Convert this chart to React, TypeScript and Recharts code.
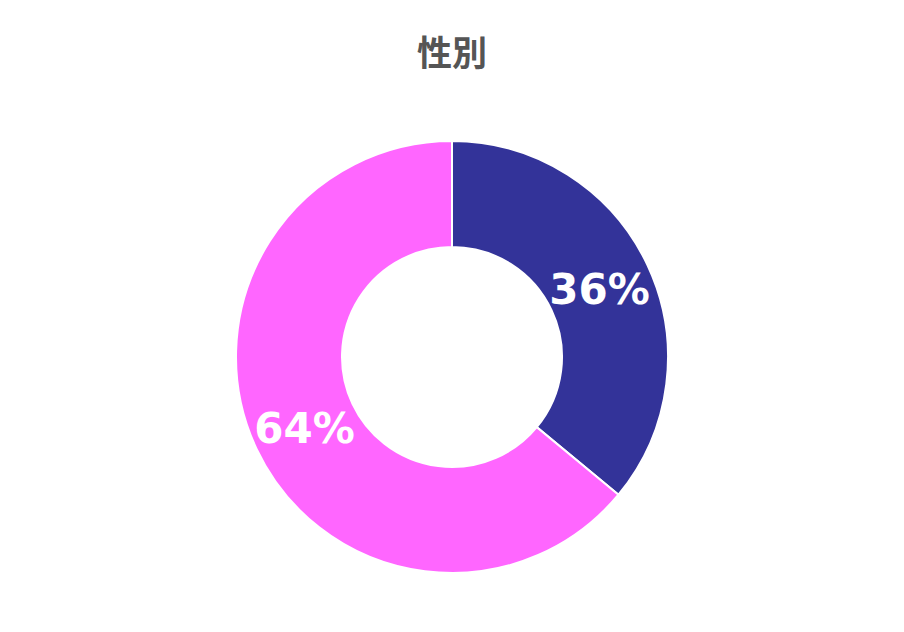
import { PieChart, Pie, Cell } from "recharts";

const categories = ["男性", "女性"];
const values = [36, 64];
const colors = ["#333399", "#FF66FF"];

const data = categories.map((name, i) => ({ name, value: values[i] }));

const RADIAN = Math.PI / 180;

const renderLabel = (props: any) => {
  const { cx, cy, midAngle, innerRadius, outerRadius, percent } = props;
  const r = (innerRadius + outerRadius) / 2;
  const x = cx + r * Math.cos(-midAngle * RADIAN);
  const y = cy + r * Math.sin(-midAngle * RADIAN);
  return (
    <text
      x={x}
      y={y + 2}
      fill="#ffffff"
      textAnchor="middle"
      dominantBaseline="central"
      fontFamily="DejaVu Sans"
      fontWeight="bold"
      fontSize={42}
    >
      {`${Math.round(percent * 100)}%`}
    </text>
  );
};

export default function App() {
  return (
    <div style={{ position: "absolute", left: 0, top: 0, width: 904, height: 632, background: "#fff" }}>
      <PieChart width={904} height={632} margin={{ top: 0, right: 0, bottom: 0, left: 0 }}>
        <text
          x={452}
          y={50}
          textAnchor="middle"
          dominantBaseline="central"
          fill="#555555"
          fontFamily="Noto Sans CJK JP"
          fontWeight="bold"
          fontSize={35}
        >
          性別
        </text>
        <Pie
          data={data}
          dataKey="value"
          nameKey="name"
          cx={452}
          cy={357}
          innerRadius={110}
          outerRadius={216}
          startAngle={90}
          endAngle={-270}
          stroke="#ffffff"
          strokeWidth={2}
          label={renderLabel}
          labelLine={false}
          isAnimationActive={false}
        >
          {data.map((_, i) => (
            <Cell key={i} fill={colors[i]} />
          ))}
        </Pie>
      </PieChart>
    </div>
  );
}
